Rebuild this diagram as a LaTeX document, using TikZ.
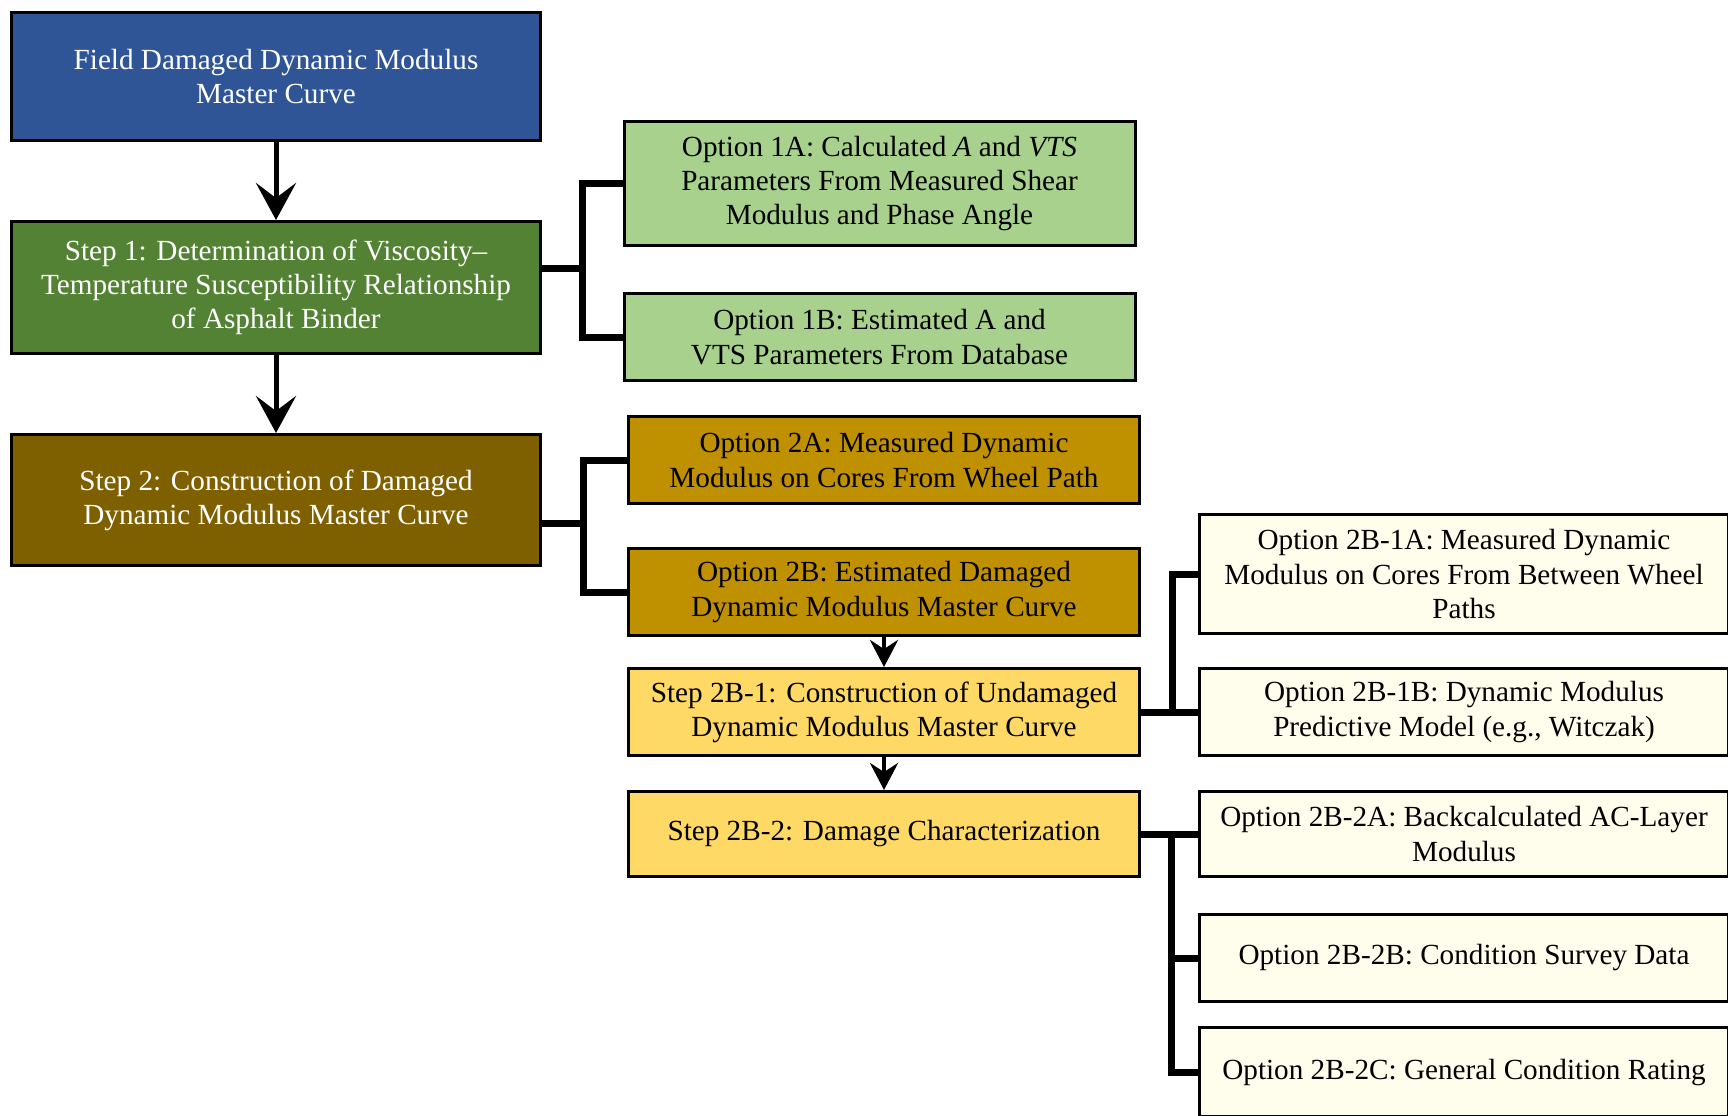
\documentclass[tikz,border=0pt]{standalone}
\usepackage{fontspec}
\setmainfont{Liberation Serif}
\usetikzlibrary{positioning}
\usetikzlibrary{arrows.meta}

\definecolor{fieldblue}{HTML}{2F5597}
\definecolor{stepgreen}{HTML}{548235}
\definecolor{optgreen}{HTML}{A9D18E}
\definecolor{stepbrown}{HTML}{7F6000}
\definecolor{optgold}{HTML}{BF9000}
\definecolor{steplight}{HTML}{FFD966}
\definecolor{optcream}{HTML}{FFFDEB}

\begin{document}
\begin{tikzpicture}[x=0.5pt,y=-0.5pt,
    box/.style={draw,line width=1.5pt,align=center,inner sep=0pt,font=\fontsize{14.6pt}{17.1pt}\selectfont},
    leftbox/.style={box,minimum width=264.5pt,text=white},
    midbox/.style={box,minimum width=255.5pt,minimum height=43.5pt},
    rightbox/.style={box,minimum width=264.5pt,minimum height=43.5pt,fill=optcream},
    flow/.style={line width=2.5pt,-{Stealth[length=18.5pt,width=20pt,inset=7.5pt]}},
    subflow/.style={line width=2.2pt,-{Stealth[length=13.5pt,width=14pt,inset=4.5pt]}},
    branch/.style={line width=3.5pt}]
    \useasboundingbox (0,0) rectangle (1728,1115);

    \node[leftbox,fill=fieldblue,minimum height=64pt] (field) at (276,76.5) {Field Damaged Dynamic Modulus\\Master Curve};
    \node[leftbox,fill=stepgreen,minimum height=66pt] (step1) [below=39pt of field] {Step 1: Determination of Viscosity--\\Temperature Susceptibility Relationship\\of Asphalt Binder};
    \node[leftbox,fill=stepbrown,minimum height=65.5pt] (step2) [below=39pt of step1] {Step 2: Construction of Damaged\\Dynamic Modulus Master Curve};

    \node[midbox,fill=optgreen,minimum height=62pt] (opt1a) at (879.5,183.5) {Option 1A: Calculated \textit{A} and \textit{VTS}\\Parameters From Measured Shear\\Modulus and Phase Angle};
    \node[midbox,fill=optgreen] (opt1b) [below=22.5pt of opt1a] {Option 1B: Estimated A and\\VTS Parameters From Database};

    \node[midbox,fill=optgold] (opt2a) at (884,460) {Option 2A: Measured Dynamic\\Modulus on Cores From Wheel Path};
    \node[midbox,fill=optgold] (opt2b) [below=21pt of opt2a] {Option 2B: Estimated Damaged\\Dynamic Modulus Master Curve};
    \node[midbox,fill=steplight] (step2b1) [below=15pt of opt2b] {Step 2B-1: Construction of Undamaged\\Dynamic Modulus Master Curve};
    \node[midbox,fill=steplight,minimum height=42.5pt] (step2b2) [below=16.5pt of step2b1] {Step 2B-2: Damage Characterization};

    \node[rightbox] (opt2b1b) [right=28.5pt of step2b1] {Option 2B-1B: Dynamic Modulus\\Predictive Model (e.g., Witczak)};
    \node[rightbox,minimum height=59.5pt] (opt2b1a) [above=16pt of opt2b1b] {Option 2B-1A: Measured Dynamic\\Modulus on Cores From Between Wheel\\Paths};
    \node[rightbox,minimum height=42.5pt] (opt2b2a) [right=28.5pt of step2b2] {Option 2B-2A: Backcalculated AC-Layer\\Modulus};
    \node[rightbox] (opt2b2b) [below=17.5pt of opt2b2a] {Option 2B-2B: Condition Survey Data};
    \node[rightbox,minimum height=44.5pt] (opt2b2c) [below=11.5pt of opt2b2b] {Option 2B-2C: General Condition Rating};

    \coordinate (j1) at (582,268);
    \coordinate (j2) at (583,523);
    \coordinate (j3) at (1172,712);
    \coordinate (j4) at (1171,834);

    \draw[flow] (field) -- (step1);
    \draw[flow] (step1) -- (step2);
    \draw[subflow] (opt2b) -- (step2b1);
    \draw[subflow] (step2b1) -- (step2b2);

    \draw[branch] (step1.east |- j1) -- (j1) |- (opt1a.west);
    \draw[branch] (j1) |- (opt1b.west);
    \draw[branch] (step2.east |- j2) -- (j2) |- (opt2a.west);
    \draw[branch] (j2) |- (opt2b.west);
    \draw[branch] (step2b1.east) -- (opt2b1b.west);
    \draw[branch] (j3) |- (opt2b1a.west);
    \draw[branch] (step2b2.east) -- (opt2b2a.west);
    \draw[branch] (j4) |- (opt2b2b.west);
    \draw[branch] (j4) |- (opt2b2c.west);
  \end{tikzpicture}
\end{document}
